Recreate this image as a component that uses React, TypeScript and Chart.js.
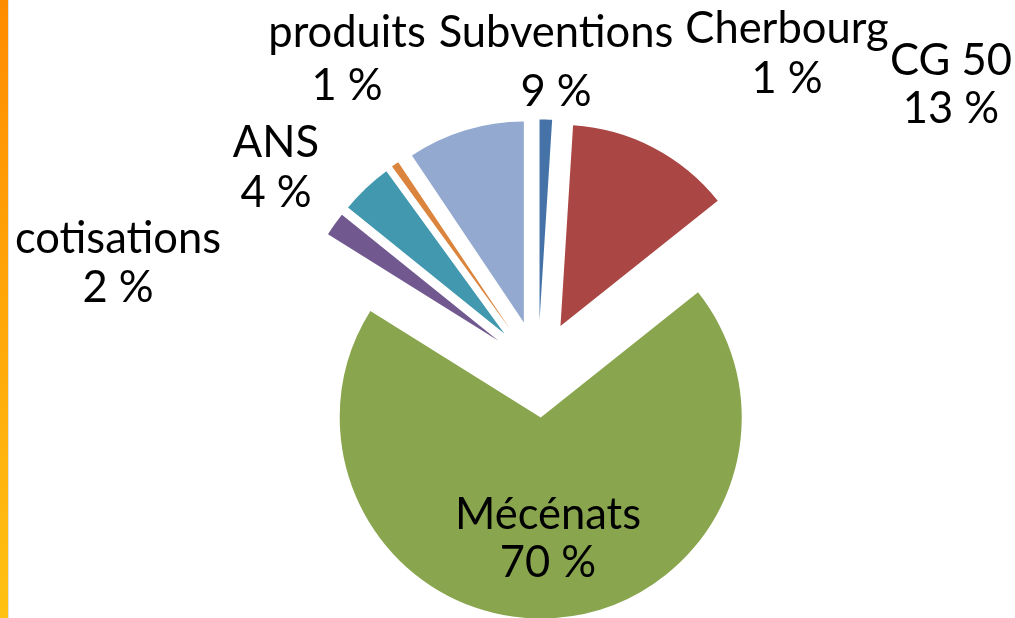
import React, { useEffect, useRef } from "react";
import { Chart, registerables } from "chart.js";

Chart.register(...registerables);

const categories = ["Cherbourg", "CG 50", "Mécénats", "cotisations", "ANS", "produits", "Subventions"];
const shares = [1.0, 13.3, 69.6, 1.9, 4.2, 0.6, 9.4];
const sliceColors = ["#4572A7", "#AA4643", "#89A54E", "#71588F", "#4198AF", "#DB843D", "#93A9CF"];
// label anchors: [center x, baseline line 1, baseline line 2]
const labelAnchors = [
  [787, 43, 93],
  [951, 75, 123],
  [548, 529, 577],
  [118, 253, 302],
  [276, 157, 207],
  [347, 47, 100],
  [556, 47, 106],
];

const W = 1015;
const H = 618;
const CENTER_X = 538;
const CENTER_Y = 369;
const RADIUS = 201;
const EXPLODE = 48.6;
const LABEL_FONT = "43.5px Lato";

const explodePlugin = {
  id: "explodeSlices",
  beforeDatasetsDraw(chart: any) {
    const { chartArea } = chart;
    const cx = (chartArea.left + chartArea.right) / 2;
    const cy = (chartArea.top + chartArea.bottom) / 2;
    const meta = chart.getDatasetMeta(0);
    meta.data.forEach((el: any) => {
      const mid = (el.startAngle + el.endAngle) / 2;
      el.x = cx + Math.cos(mid) * EXPLODE;
      el.y = cy + Math.sin(mid) * EXPLODE;
    });
  },
};

const labelPlugin = {
  id: "sliceLabels",
  afterDatasetsDraw(chart: any) {
    const ctx = chart.ctx;
    const data = chart.data.datasets[0].data as number[];
    const total = data.reduce((a, b) => a + b, 0);
    ctx.save();
    ctx.font = LABEL_FONT;
    ctx.fillStyle = "#000000";
    ctx.textAlign = "center";
    ctx.textBaseline = "alphabetic";
    chart.data.labels.forEach((lab: string, i: number) => {
      const [x, y1, y2] = labelAnchors[i];
      const pct = Math.round((data[i] / total) * 100) + " %";
      ctx.fillText(lab, x, y1);
      ctx.fillText(pct, x, y2);
    });
    ctx.restore();
  },
};

export default function App() {
  const ref = useRef<HTMLCanvasElement | null>(null);
  useEffect(() => {
    if (!ref.current) return;
    const chart = new Chart(ref.current, {
      type: "pie",
      data: {
        labels: categories,
        datasets: [
          {
            data: shares,
            backgroundColor: sliceColors,
            borderWidth: 0,
          },
        ],
      },
      options: {
        animation: false,
        responsive: false,
        maintainAspectRatio: false,
        devicePixelRatio: 1,
        radius: RADIUS,
        layout: {
          padding: {
            left: 2 * CENTER_X - W,
            right: 0,
            top: 2 * CENTER_Y - H,
            bottom: 0,
          },
        },
        plugins: {
          legend: { display: false },
          tooltip: { enabled: false },
        },
        events: [],
      } as any,
      plugins: [explodePlugin, labelPlugin],
    });
    return () => chart.destroy();
  }, []);

  return (
    <div style={{ position: "fixed", left: 0, top: 0, width: W, height: H, background: "#ffffff", overflow: "hidden" }}>
      <canvas ref={ref} width={W} height={H} style={{ position: "absolute", left: 0, top: 0, width: W, height: H }} />
      <div
        style={{
          position: "absolute",
          left: 0,
          top: 0,
          width: 8,
          height: H,
          background: "linear-gradient(to bottom, #FF8C00, #FFC112)",
        }}
      />
      <div style={{ position: "absolute", left: 8, top: 0, width: 1, height: H, background: "#E2E2E2" }} />
    </div>
  );
}
